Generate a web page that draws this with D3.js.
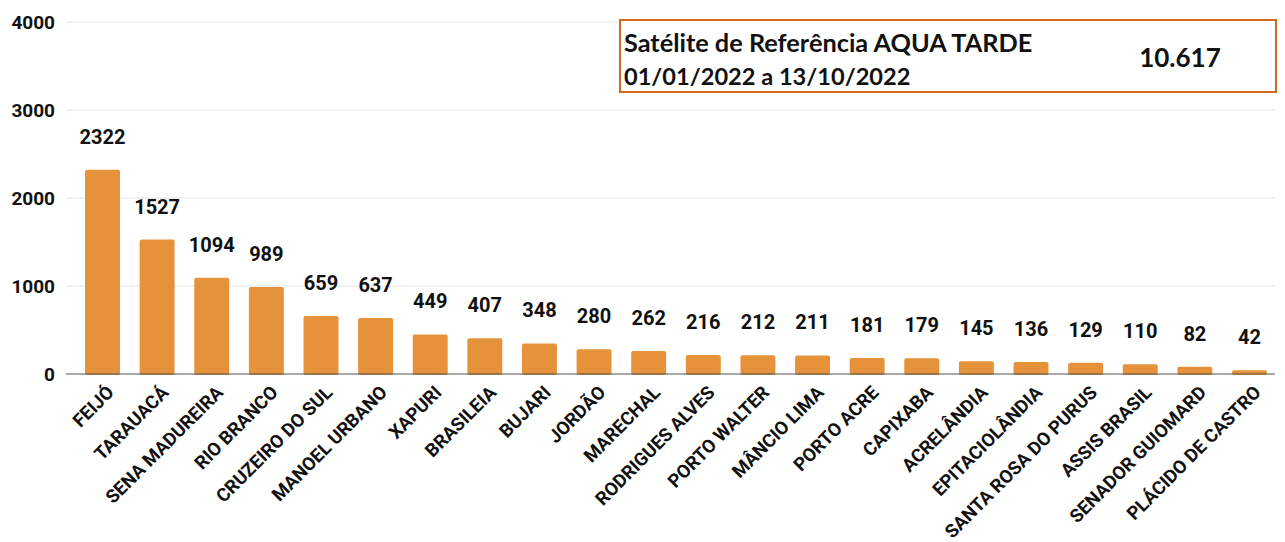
<!DOCTYPE html>
<meta charset="utf-8">
<head>
  <script src="https://d3js.org/d3.v7.min.js"></script>
  <style>
    body { margin: 0; background: #fff; font-family: Roboto, 'Liberation Sans', sans-serif; }
  </style>
</head>
<body>
  <div id="chart"></div>
<script>
  // municipios and fire counts
  const municipios = ["FEIJÓ", "TARAUACÁ", "SENA MADUREIRA", "RIO BRANCO", "CRUZEIRO DO SUL",
    "MANOEL URBANO", "XAPURI", "BRASILEIA", "BUJARI", "JORDÃO", "MARECHAL", "RODRIGUES ALVES",
    "PORTO WALTER", "MÂNCIO LIMA", "PORTO ACRE", "CAPIXABA", "ACRELÂNDIA", "EPITACIOLÂNDIA",
    "SANTA ROSA DO PURUS", "ASSIS BRASIL", "SENADOR GUIOMARD", "PLÁCIDO DE CASTRO"]
  const focos = [2322, 1527, 1094, 989, 659, 637, 449, 407, 348, 280, 262, 216, 212, 211, 181,
    179, 145, 136, 129, 110, 82, 42]
  const yTicks = [0, 1000, 2000, 3000, 4000]
  const boxLine1 = "Satélite de Referência AQUA TARDE"
  const boxLine2 = "01/01/2022 a 13/10/2022"
  const boxTotal = "10.617"

  const W = 1285, H = 542
  const margin = { top: 22, right: 10, bottom: 168, left: 66 }
  const width = W - margin.left - margin.right
  const height = H - margin.top - margin.bottom

  const svg = d3.select("#chart").append("svg")
    .attr("width", W).attr("height", H)
  const g = svg.append("g").attr("transform", `translate(${margin.left},${margin.top})`)

  const x = d3.scaleBand().domain(municipios).range([9.2, 1210.8]).paddingInner(0.36).paddingOuter(0.18)
  const y = d3.scaleLinear().domain([0, 4000]).range([height, 0])

  // grid
  g.selectAll(".grid").data(yTicks.filter(d => d > 0)).enter().append("line")
    .attr("x1", 0).attr("x2", width)
    .attr("y1", d => y(d)).attr("y2", d => y(d))
    .attr("stroke", "#e3e3e3").attr("stroke-width", 1)

  // y labels
  g.selectAll(".ylab").data(yTicks).enter().append("text")
    .attr("x", -11).attr("y", d => y(d)).attr("dy", "0.35em")
    .attr("text-anchor", "end")
    .style("font-size", "19px").style("font-weight", "bold").attr("fill", "#111")
    .text(d => d)

  // bars
  g.selectAll(".bar").data(focos).enter().append("rect")
    .attr("x", (d, i) => x(municipios[i]))
    .attr("y", d => y(d))
    .attr("width", x.bandwidth())
    .attr("height", d => height - y(d) + 1)
    .attr("rx", 2)
    .attr("fill", "#E5923A")

  // baseline
  g.append("line").attr("x1", 0).attr("x2", width).attr("y1", height).attr("y2", height)
    .attr("stroke", "#555").attr("stroke-width", 1.2)

  // value labels
  g.selectAll(".val").data(focos).enter().append("text")
    .attr("x", (d, i) => x(municipios[i]) + x.bandwidth() / 2)
    .attr("y", d => y(d) - 26)
    .attr("text-anchor", "middle")
    .style("font-size", "20px").style("font-weight", "bold").attr("fill", "#111")
    .text(d => d)

  // x labels rotated
  g.selectAll(".xlab").data(municipios).enter().append("text")
    .attr("transform", d => `translate(${x(d) + x.bandwidth() / 2 + 8},${height + 15}) rotate(-45)`)
    .attr("text-anchor", "end")
    .attr("dy", "0.35em")
    .style("font-size", "18.5px").style("font-weight", "bold").attr("fill", "#111")
    .text(d => d)

  // info box
  const box = svg.append("g").attr("transform", "translate(620,20)")
  box.append("rect").attr("width", 656).attr("height", 72)
    .attr("fill", "#fff").attr("stroke", "#D2691E").attr("stroke-width", 2)
  box.append("text").attr("x", 4).attr("y", 32)
    .style("font-family", "Lato, 'Open Sans', sans-serif").style("font-size", "25.3px").style("font-weight", "bold")
    .attr("fill", "#111").text(boxLine1)
  box.append("text").attr("x", 4).attr("y", 65)
    .style("font-family", "Lato, 'Open Sans', sans-serif").style("font-size", "23.6px").style("font-weight", "bold")
    .attr("fill", "#111").text(boxLine2)
  box.append("text").attr("x", 560).attr("y", 47).attr("text-anchor", "middle")
    .style("font-family", "Lato, 'Open Sans', sans-serif").style("font-size", "26px").style("font-weight", "bold")
    .attr("fill", "#111").text(boxTotal)
</script>
</body>
